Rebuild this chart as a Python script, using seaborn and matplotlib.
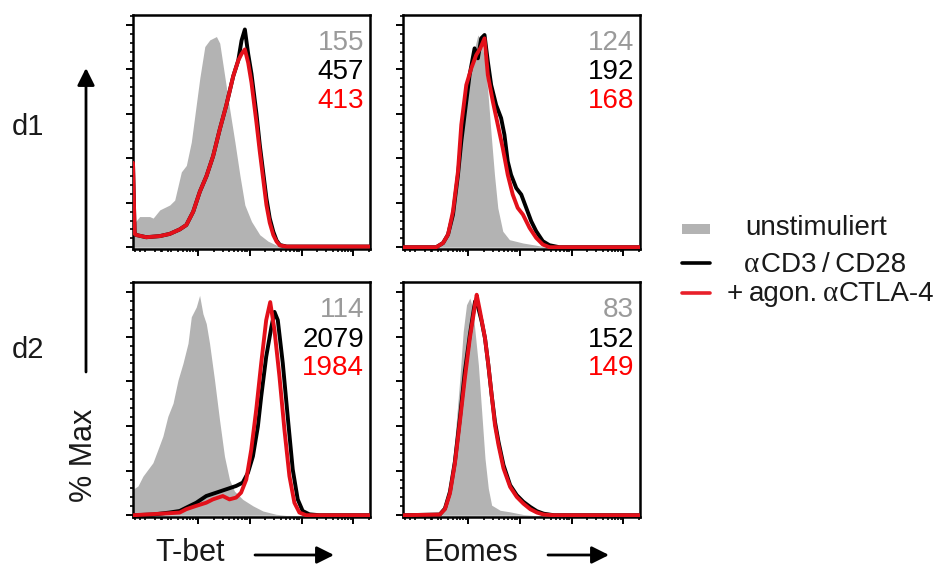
"""
Flow cytometry overlays (T-bet / Eomes, d1 / d2) redrawn with seaborn.
"""

import matplotlib
matplotlib.use("Agg")
import matplotlib.pyplot as plt
import seaborn as sns
import pandas as pd
import numpy as np
from matplotlib.ticker import FixedLocator, MultipleLocator
from matplotlib.patches import Rectangle
from matplotlib.lines import Line2D

# ---------------- data (channel position 0-100, % of max) ----------------
# d1, T-bet
tl_gray_x = [0, 2.8, 7, 8.5, 11.3, 15.5, 17.6, 20.4, 22.5, 24.6, 28.2, 30.3, 32.4,
             35.2, 36.6, 38.7, 40.8, 43, 45.1, 47.2, 50, 53.5, 57, 60.6, 64.8, 100]
tl_gray_y = [10.1, 13.8, 13.8, 13.1, 16.8, 19, 21.2, 33.9, 36.8, 47.3, 76.2, 90.3, 93.3,
             94.8, 91.8, 77, 62.1, 47.3, 32.4, 19, 11.6, 5.6, 2.7, 0.9, 0, 0]
tl_line_x = [0, 0.7, 1.4, 5.6, 11.3, 15.5, 19.7, 22.5, 25.4, 28.2, 31, 33.8, 36.6, 39.4,
             42.3, 44.4, 45.8, 47.2, 48.6, 50, 52.1, 53.5, 54.9, 56.3, 57.7, 59.2, 60.6,
             62, 64.8, 100]
tl_black_y = [38, 6, 5.5, 4.5, 5, 6, 8, 10, 16, 25, 32, 41, 53, 64, 77, 84, 93, 98, 87,
              78, 60, 46, 34, 22, 13, 7, 3, 1, 0.3, 0.3]
tl_red_y = [38, 6, 5.5, 4.5, 5, 6, 8, 10, 16, 25, 32, 41, 53, 64, 77, 84, 87, 89, 83,
            74, 56, 43, 31, 19, 11, 5.5, 2.5, 0.8, 0.3, 0.3]

# d1, Eomes
tr_gray_x = [0, 15.4, 16.9, 19, 21.1, 22.5, 23.9, 26, 28.1, 30.2, 31.6, 33, 34.4, 35.8,
             37.2, 38.6, 40, 42.1, 44.9, 50.6, 56.2, 60.4, 100]
tr_gray_y = [0, 0.4, 2.7, 7.2, 17.7, 29.6, 41.6, 58.1, 76, 89.5, 95.5, 92.5, 85, 70,
             50.6, 32.6, 17.7, 7.2, 3.4, 1.9, 0.9, 0, 0]
tr_black_x = [0, 14, 16.9, 19, 21.1, 23.2, 24.6, 26, 28.1, 30.2, 31.6, 33, 34.4, 35.8,
              37.2, 39.3, 41.4, 42.8, 44.2, 45.6, 47.8, 49.9, 52, 54.1, 56.2, 59, 61.8,
              66, 100]
tr_black_y = [0, 0, 1.9, 5.7, 14.7, 32.6, 47.6, 59.6, 77.5, 89.5, 85, 94, 95.5, 83.5,
              73, 64, 58.1, 50.6, 38.6, 32.6, 26.6, 23.7, 17.7, 11.7, 7.2, 2.7, 0.9, 0, 0]
tr_red_x = [0, 14, 16.9, 19, 21.1, 23.2, 24.6, 26.7, 28.8, 30.9, 32.6, 34.4, 35.8, 37.9,
            40, 42.1, 44.2, 46.3, 48.4, 50.6, 53.4, 56.2, 59, 61.8, 100]
tr_red_y = [0, 0, 1.9, 5.7, 16.2, 34.1, 55.1, 73, 80.5, 86.5, 89.5, 94, 77.5, 65.6,
            55.1, 44.6, 32.6, 23.7, 17.7, 14.7, 8.7, 4.2, 1.2, 0, 0]

# d2, T-bet
bl_gray_x = [0, 2.1, 4.2, 6.3, 8.4, 10.5, 12.6, 14.7, 16.9, 19, 21.1, 23.2, 24.6, 26.7,
             28.1, 29.5, 30.9, 32.3, 34.4, 36.5, 38.6, 40.7, 42.8, 46.3, 50.6, 54.8,
             60.4, 64.6, 100]
bl_gray_y = [11.6, 13.1, 17.5, 20.5, 23.5, 29.4, 35.4, 44.3, 50.2, 60.6, 68.1, 77, 88.9,
             93.3, 98.5, 90.3, 85.9, 77, 60.6, 42.8, 26.4, 16, 10.8, 7.1, 4.2, 1.9, 0.4,
             0, 0]
bl_black_x = [0, 8.4, 15.4, 19.7, 22.5, 26.7, 30.9, 35.1, 39.3, 43.5, 46.3, 48.5, 50.6,
              52.7, 54.1, 56.2, 58.4, 59.7, 61.1, 63.2, 65.4, 67.4, 69.5, 71.6, 74.4,
              78.7, 100]
bl_black_y = [0, 0.3, 1.2, 1.9, 3.4, 5.6, 8.6, 10.1, 11.6, 13.1, 14.6, 19, 26.4, 39.8,
              53.2, 71, 84.4, 91.1, 87.4, 68.1, 42.8, 20.5, 7.1, 1.9, 0.4, 0, 0]
bl_red_x = [0, 15.4, 19.7, 22.5, 26.7, 30.9, 33.7, 37.9, 40.7, 43.5, 45.6, 47.8, 49.9,
            52, 54.1, 56.2, 57.9, 59.7, 61.8, 63.9, 66, 68.1, 70.2, 73, 100]
bl_red_y = [0, 0.9, 1.2, 2.7, 4.2, 5.6, 7.1, 8.6, 7.1, 7.9, 10.1, 16, 29.4, 47.3, 68.1,
            87.4, 95.5, 82.9, 62.1, 38.3, 17.5, 5.6, 1.2, 0, 0]

# d2, Eomes
br_gray_x = [0, 15.5, 17.7, 19.8, 21.9, 24, 25.4, 26.8, 28.2, 29.4, 30.4, 31.8, 33.2,
             34.6, 36, 37.4, 41, 45.2, 50.8, 55.1, 100]
br_gray_y = [0, 0.3, 2.2, 13.5, 34.4, 61.4, 82.3, 94.3, 97.3, 92.8, 82.3, 67.4, 46.4,
             25.4, 12, 4.5, 2.2, 1.5, 0.3, 0, 0]
br_black_x = [0, 15.5, 17.7, 19.8, 21.9, 24, 26.1, 28.2, 30.4, 31.8, 33.2, 34.6, 36,
              37.4, 38.8, 40.3, 42.4, 45.2, 48, 50.8, 53.7, 56.5, 59.3, 63.6, 100]
br_black_y = [0, 0.3, 3, 10.5, 24, 43.4, 64.4, 80.8, 95.8, 92.8, 86.8, 79.3, 67.4, 53.9,
              41.9, 32.9, 22.5, 13.5, 9, 6, 3.7, 1.8, 0.7, 0, 0]
br_red_x = [0, 15.5, 17.7, 19.8, 21.9, 24, 26.1, 28.2, 30.4, 31.1, 32.5, 34.6, 36, 37.4,
            38.8, 40.3, 42.4, 45.2, 48, 50.8, 53.7, 56.5, 59.3, 63.6, 100]
br_red_y = [0, 0.3, 2.7, 9.7, 23.2, 41.9, 61.4, 79.3, 94.3, 98.8, 91.3, 79.3, 67.4, 53.9,
            40.4, 31.4, 21, 12.7, 8.2, 5.2, 2.7, 1.2, 0.3, 0, 0]

# MFI values per panel: unstimuliert, aCD3/CD28, + agon. aCTLA-4
tl_mfi = ["155", "457", "413"]
tr_mfi = ["124", "192", "168"]
bl_mfi = ["114", "2079", "1984"]
br_mfi = ["83", "152", "149"]

legend_labels = ["unstimuliert", "CD3\u2009/\u2009CD28", "+", "agon.", "CTLA-4"]

GRAY = "#b3b3b3"
BLACK = "#000000"
RED = "#e3101a"
TXT_GRAY = "#9a9a9a"
TXT_RED = "#ff0000"

sns.set_theme(style="white")
plt.rcParams["font.family"] = ["Liberation Sans", "DejaVu Sans"]
plt.rcParams["text.color"] = "#1a1a1a"

W, H = 944, 569
fig = plt.figure(figsize=(W / 100, H / 100), dpi=100)


def fx(px):
    return px / W


def fy(py):
    return 1 - py / H


# axes boxes in pixels: left, top, right, bottom
boxes = {
    "tl": (133, 15, 370, 249),
    "tr": (403, 15, 640, 249),
    "bl": (133, 282, 370, 517),
    "br": (403, 282, 640, 517),
}

panels = {
    "tl": (tl_gray_x, tl_gray_y, tl_line_x, tl_black_y, tl_line_x, tl_red_y, tl_mfi),
    "tr": (tr_gray_x, tr_gray_y, tr_black_x, tr_black_y, tr_red_x, tr_red_y, tr_mfi),
    "bl": (bl_gray_x, bl_gray_y, bl_black_x, bl_black_y, bl_red_x, bl_red_y, bl_mfi),
    "br": (br_gray_x, br_gray_y, br_black_x, br_black_y, br_red_x, br_red_y, br_mfi),
}

# logicle-like x tick layout
decade = 21.8
majors = [27.5 + decade * i for i in range(4)]
minors = [0.7, 2.8, 4.9, 9.2, 12.0, 14.8]
for start in [5.7] + majors:
    for k in range(2, 10):
        p = start + decade * np.log10(k)
        if p < 100:
            minors.append(p)

for key, (l, t, r, b) in boxes.items():
    gx, gy, kx, ky, rx, ry, mfi = panels[key]
    ax = fig.add_axes([fx(l), fy(b), fx(r - l), (b - t) / H])

    ax.fill_between(gx, gy, 0, color=GRAY, lw=0, zorder=1)
    df_k = pd.DataFrame({"x": kx, "y": ky})
    df_r = pd.DataFrame({"x": rx, "y": ry})
    sns.lineplot(data=df_k, x="x", y="y", ax=ax, color=BLACK, lw=2.8,
                 estimator=None, sort=False, zorder=2)
    sns.lineplot(data=df_r, x="x", y="y", ax=ax, color=RED, lw=2.8,
                 estimator=None, sort=False, zorder=3)

    ax.set_xlim(0, 100)
    ax.set_ylim(-0.8, 104.5)
    ax.set_xlabel("")
    ax.set_ylabel("")

    ax.yaxis.set_major_locator(FixedLocator([0, 20, 40, 60, 80, 100]))
    ax.yaxis.set_minor_locator(MultipleLocator(4))
    ax.xaxis.set_major_locator(FixedLocator(majors))
    ax.xaxis.set_minor_locator(FixedLocator(minors))
    ax.tick_params(which="major", direction="out", length=5, width=1.4,
                   color="black", left=True, bottom=True,
                   labelleft=False, labelbottom=False)
    ax.tick_params(which="minor", direction="out", length=2.5, width=1.2,
                   color="black", left=True, bottom=True)
    for s in ax.spines.values():
        s.set_color("black")
        s.set_linewidth(1.8)

    for txt, col, yy in zip(mfi, [TXT_GRAY, BLACK, TXT_RED], [0.88, 0.755, 0.632]):
        ax.text(0.975, yy, txt, transform=ax.transAxes, ha="right", va="center",
                fontsize=20, color=col)

# row labels and y axis arrow
fig.text(fx(12), fy(135), "d1", fontsize=21, ha="left", va="baseline")
fig.text(fx(12), fy(358), "d2", fontsize=21, ha="left", va="baseline")
fig.text(fx(84), fy(455), "% Max", fontsize=22, rotation=90, ha="center", va="center")
arrow = dict(arrowstyle="-|>", lw=2.0, color="black", mutation_scale=26,
             shrinkA=0, shrinkB=0)
plt.annotate("", xy=(fx(86), fy(68)), xytext=(fx(86), fy(372)),
             xycoords="figure fraction", textcoords="figure fraction",
             arrowprops=arrow)

# x axis labels with arrows
fig.text(fx(155), fy(553), "T-bet", fontsize=22, ha="left", va="center")
fig.text(fx(423), fy(553), "Eomes", fontsize=22, ha="left", va="center")
plt.annotate("", xy=(fx(334), fy(555)), xytext=(fx(255), fy(555)),
             xycoords="figure fraction", textcoords="figure fraction",
             arrowprops=arrow)
plt.annotate("", xy=(fx(609), fy(555)), xytext=(fx(548), fy(555)),
             xycoords="figure fraction", textcoords="figure fraction",
             arrowprops=arrow)

# legend
fig.add_artist(Rectangle((fx(682), fy(234)), fx(28), 10 / H,
                         transform=fig.transFigure, color=GRAY, lw=0))
fig.add_artist(Line2D([fx(682), fx(710)], [fy(263), fy(263)],
                      transform=fig.transFigure, color=BLACK, lw=2.6))
fig.add_artist(Line2D([fx(682), fx(710)], [fy(293), fy(293)],
                      transform=fig.transFigure, color="#e8202a", lw=2.6))
fig.text(fx(745), fy(235), legend_labels[0], fontsize=20, ha="left", va="baseline")
fig.text(fx(744), fy(272), "\u03b1", fontsize=21, family="Liberation Serif",
         ha="left", va="baseline")
fig.text(fx(761), fy(272), legend_labels[1], fontsize=20, ha="left", va="baseline")
fig.text(fx(727), fy(301), legend_labels[2], fontsize=20, ha="left", va="baseline")
fig.text(fx(749), fy(301), legend_labels[3], fontsize=20, ha="left", va="baseline")
fig.text(fx(823), fy(301), "\u03b1", fontsize=21, family="Liberation Serif",
         ha="left", va="baseline")
fig.text(fx(839), fy(301), legend_labels[4], fontsize=20, ha="left", va="baseline")

fig.savefig("out.png", dpi=100)
